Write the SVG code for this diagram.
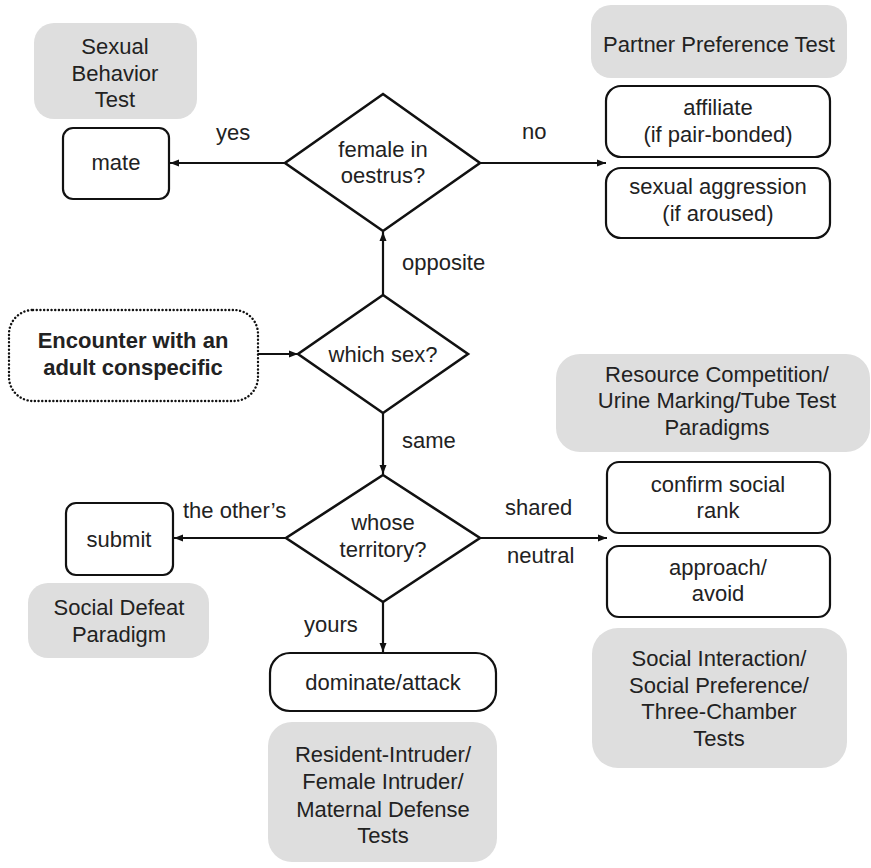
<svg xmlns="http://www.w3.org/2000/svg" width="871" height="868" viewBox="0 0 871 868">
<style>
text{font-family:"Liberation Sans",Arial,sans-serif;font-size:22px;fill:#222;text-anchor:middle}
.lbl{text-anchor:start}
.gray{fill:#dedede;stroke:none}
.box{fill:#fff;stroke:#111;stroke-width:2.2}
.dia{fill:#fff;stroke:#111;stroke-width:2.6;stroke-linejoin:miter}
.dot{fill:#fff;stroke:#111;stroke-width:2.4;stroke-dasharray:0.1 3.6;stroke-linecap:round}
.bold{font-weight:bold}
#connectors line{stroke:#111;stroke-width:2.2;marker-end:url(#arr)}
</style>
<defs>
<marker id="arr" markerUnits="userSpaceOnUse" markerWidth="10" markerHeight="8" refX="9" refY="4" orient="auto">
<path d="M0,0.5 L9,4 L0,7.5 Z" fill="#111"/>
</marker>
</defs>
<rect width="871" height="868" fill="#fff"/>

<g id="connectors">
<line x1="258" y1="354" x2="298" y2="354"/>
<line x1="383" y1="295" x2="383" y2="232"/>
<line x1="285" y1="163" x2="170" y2="163"/>
<line x1="480" y1="163" x2="606" y2="163"/>
<line x1="383" y1="413" x2="383" y2="474"/>
<line x1="286" y1="538" x2="174" y2="538"/>
<line x1="480" y1="538" x2="607" y2="538"/>
<line x1="383" y1="602" x2="383" y2="652"/>
</g>

<g id="labels">
<text class="lbl" x="216" y="140">yes</text>
<text class="lbl" x="522" y="139">no</text>
<text class="lbl" x="402" y="270">opposite</text>
<text class="lbl" x="402" y="448">same</text>
<text class="lbl" x="183" y="518">the other’s</text>
<text class="lbl" x="505" y="515">shared</text>
<text class="lbl" x="507" y="563">neutral</text>
<text class="lbl" x="304" y="632">yours</text>
</g>

<g id="sexual-behavior-test">
<rect class="gray" x="34" y="23" width="163" height="96" rx="20"/>
<text x="115" y="54">Sexual</text>
<text x="115" y="81">Behavior</text>
<text x="115" y="107">Test</text>
</g>

<g id="mate">
<rect class="box" x="63" y="128" width="106" height="71" rx="10"/>
<text x="116" y="170">mate</text>
</g>

<g id="female-in-oestrus">
<polygon class="dia" points="383,94 480,163 383,231 285,163"/>
<text x="383" y="157">female in</text>
<text x="383" y="183">oestrus?</text>
</g>

<g id="partner-preference-test">
<rect class="gray" x="591" y="5" width="256" height="73" rx="20"/>
<text x="719" y="52">Partner Preference Test</text>
</g>

<g id="affiliate">
<rect class="box" x="606" y="86" width="224" height="71" rx="15"/>
<text x="718" y="115">affiliate</text>
<text x="718" y="142">(if pair-bonded)</text>
</g>

<g id="sexual-aggression">
<rect class="box" x="606" y="168" width="224" height="70" rx="15"/>
<text x="718" y="194">sexual aggression</text>
<text x="718" y="221">(if aroused)</text>
</g>

<g id="encounter">
<rect class="dot" x="9" y="310" width="249" height="91" rx="24"/>
<text class="bold" x="133" y="348">Encounter with an</text>
<text class="bold" x="133" y="375">adult conspecific</text>
</g>

<g id="which-sex">
<polygon class="dia" points="383,295 468,354 383,413 298,354"/>
<text x="383" y="362">which sex?</text>
</g>

<g id="resource-competition">
<rect class="gray" x="556" y="354" width="314" height="98" rx="24"/>
<text x="717" y="382">Resource Competition/</text>
<text x="717" y="408">Urine Marking/Tube Test</text>
<text x="717" y="435">Paradigms</text>
</g>

<g id="confirm-social-rank">
<rect class="box" x="607" y="462" width="223" height="71" rx="12"/>
<text x="718" y="492">confirm social</text>
<text x="718" y="518">rank</text>
</g>

<g id="approach-avoid">
<rect class="box" x="607" y="546" width="223" height="71" rx="12"/>
<text x="718" y="575">approach/</text>
<text x="718" y="601">avoid</text>
</g>

<g id="whose-territory">
<polygon class="dia" points="383,475 480,538 383,602 286,538"/>
<text x="383" y="530">whose</text>
<text x="383" y="557">territory?</text>
</g>

<g id="submit">
<rect class="box" x="66" y="503" width="107" height="72" rx="10"/>
<text x="119" y="547">submit</text>
</g>

<g id="social-defeat-paradigm">
<rect class="gray" x="28" y="583" width="181" height="75" rx="20"/>
<text x="119" y="615">Social Defeat</text>
<text x="119" y="642">Paradigm</text>
</g>

<g id="dominate-attack">
<rect class="box" x="270" y="653" width="226" height="58" rx="20"/>
<text x="383" y="690">dominate/attack</text>
</g>

<g id="resident-intruder">
<rect class="gray" x="268" y="722" width="229" height="140" rx="24"/>
<text x="383" y="762">Resident-Intruder/</text>
<text x="383" y="789">Female Intruder/</text>
<text x="383" y="817">Maternal Defense</text>
<text x="383" y="843">Tests</text>
</g>

<g id="social-interaction">
<rect class="gray" x="592" y="628" width="255" height="140" rx="26"/>
<text x="719" y="666">Social Interaction/</text>
<text x="719" y="693">Social Preference/</text>
<text x="719" y="719">Three-Chamber</text>
<text x="719" y="746">Tests</text>
</g>
</svg>
